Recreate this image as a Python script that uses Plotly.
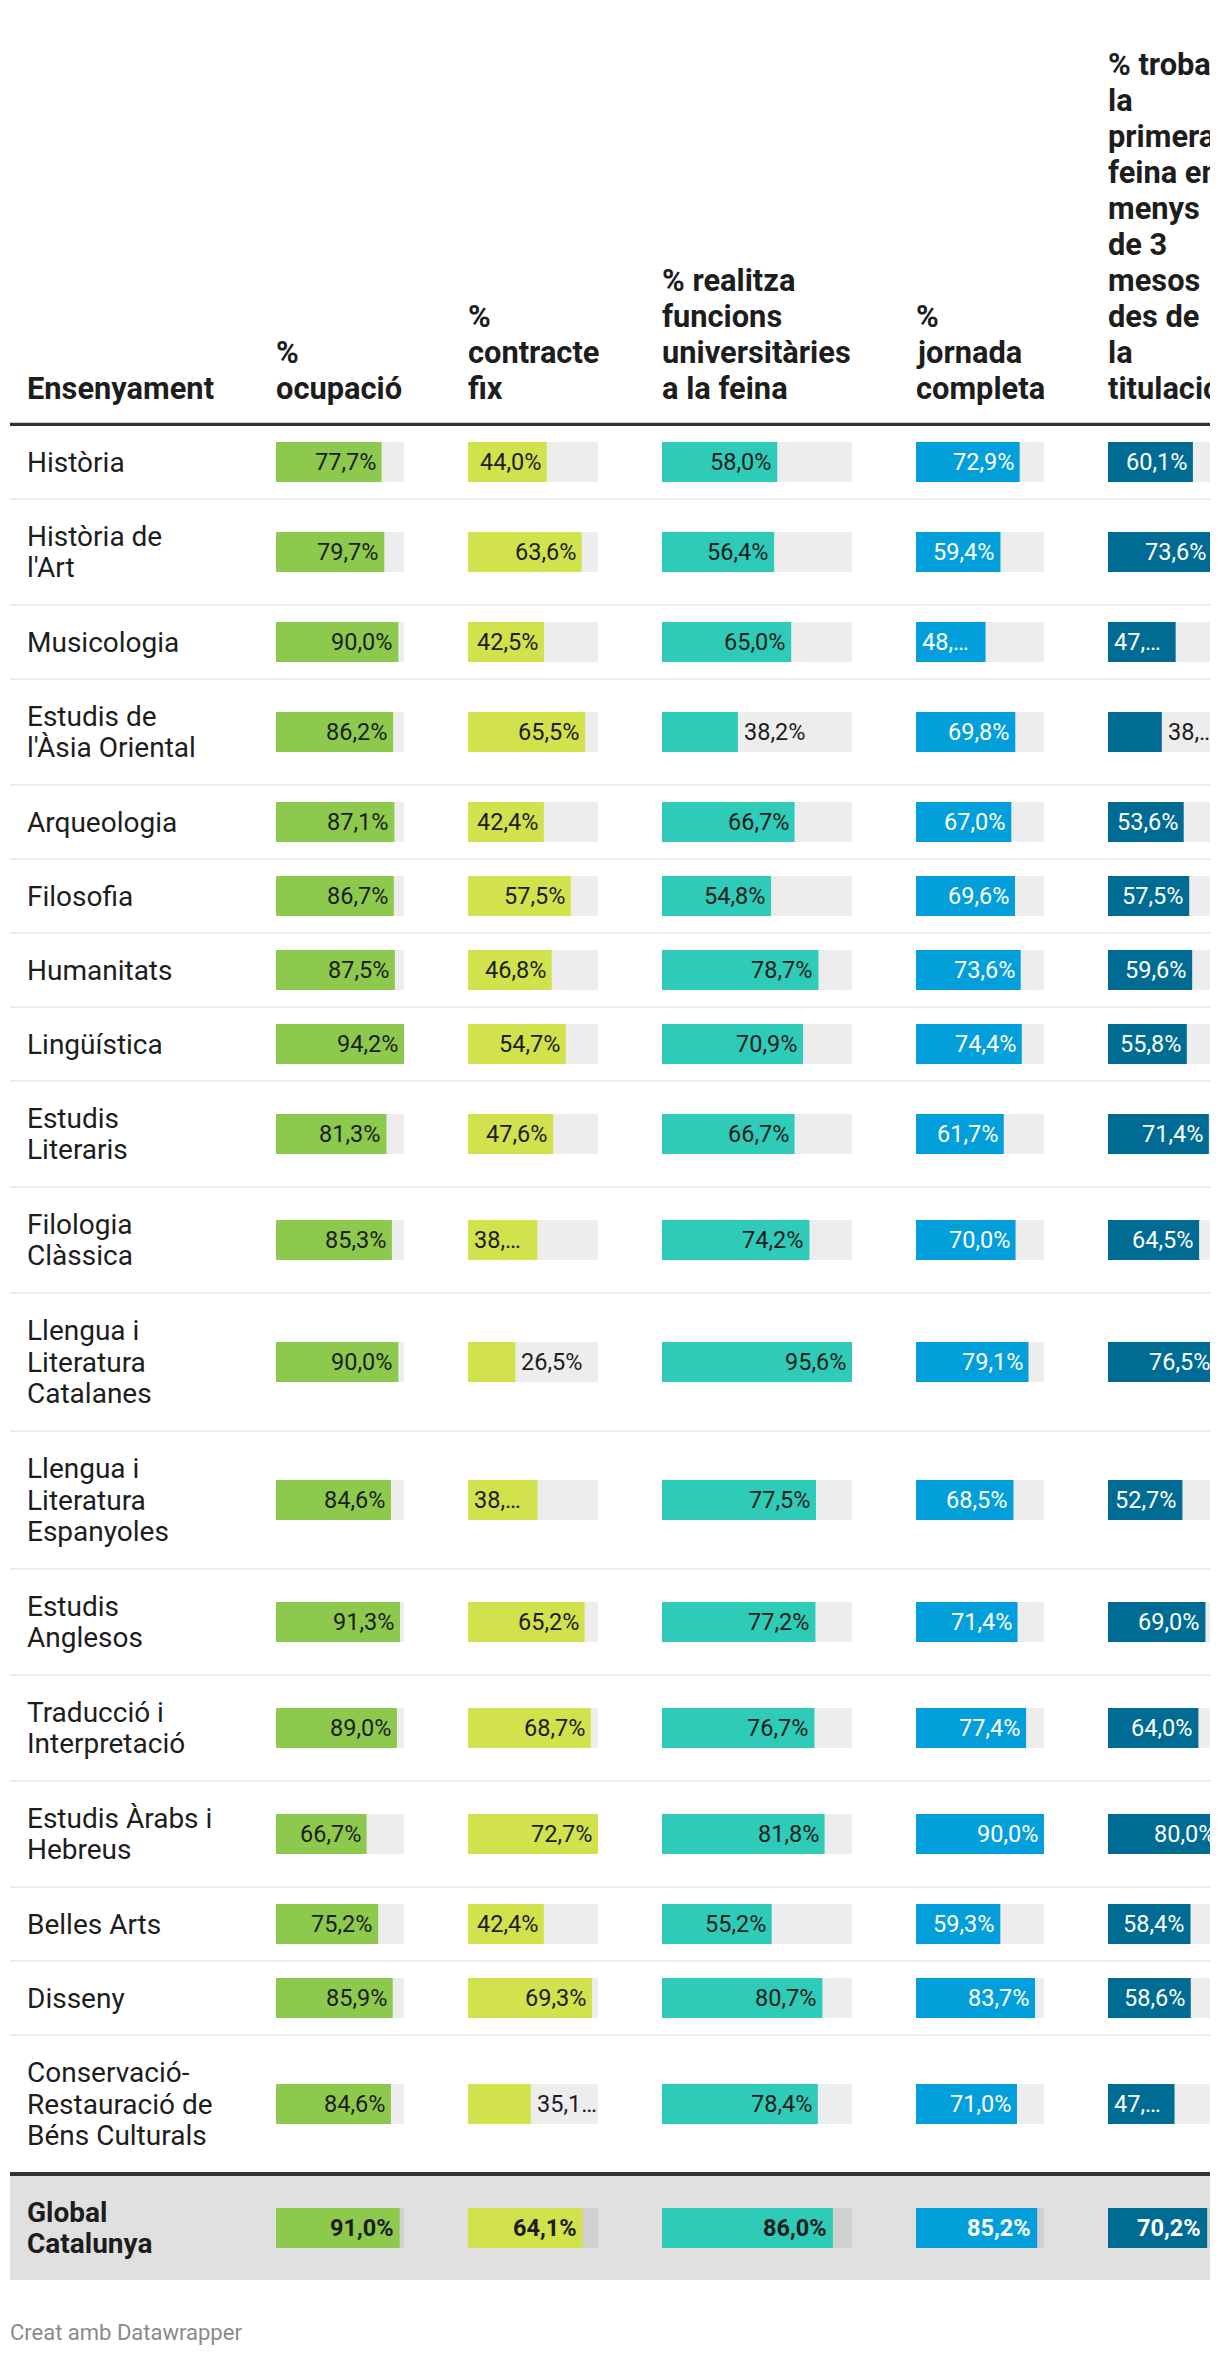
import plotly.graph_objects as go

# ---------------- data ----------------
ROW_LABELS = [
    "Història", "Història de\nl'Art", "Musicologia", "Estudis de\nl'Àsia Oriental",
    "Arqueologia", "Filosofia", "Humanitats", "Lingüística", "Estudis\nLiteraris",
    "Filologia\nClàssica", "Llengua i\nLiteratura\nCatalanes", "Llengua i\nLiteratura\nEspanyoles",
    "Estudis\nAnglesos", "Traducció i\nInterpretació", "Estudis Àrabs i\nHebreus",
    "Belles Arts", "Disseny", "Conservació-\nRestauració de\nBéns Culturals",
]
TOTAL_LABEL = "Global\nCatalunya"

OCUPACIO = [77.7, 79.7, 90.0, 86.2, 87.1, 86.7, 87.5, 94.2, 81.3, 85.3, 90.0, 84.6, 91.3, 89.0, 66.7, 75.2, 85.9, 84.6]
CONTRACTE_FIX = [44.0, 63.6, 42.5, 65.5, 42.4, 57.5, 46.8, 54.7, 47.6, 38.8, 26.5, 38.9, 65.2, 68.7, 72.7, 42.4, 69.3, 35.1]
FUNCIONS_UNIV = [58.0, 56.4, 65.0, 38.2, 66.7, 54.8, 78.7, 70.9, 66.7, 74.2, 95.6, 77.5, 77.2, 76.7, 81.8, 55.2, 80.7, 78.4]
JORNADA_COMPLETA = [72.9, 59.4, 48.9, 69.8, 67.0, 69.6, 73.6, 74.4, 61.7, 70.0, 79.1, 68.5, 71.4, 77.4, 90.0, 59.3, 83.7, 71.0]
FEINA_3_MESOS = [60.1, 73.6, 47.9, 38.1, 53.6, 57.5, 59.6, 55.8, 71.4, 64.5, 76.5, 52.7, 69.0, 64.0, 80.0, 58.4, 58.6, 47.1]
GLOBAL = [91.0, 64.1, 86.0, 85.2, 70.2]

FIRST_HEADER = "Ensenyament"
COL_HEADERS = [
    "%\nocupació",
    "%\ncontracte\nfix",
    "% realitza\nfuncions\nuniversitàries\na la feina",
    "%\njornada\ncompleta",
    "% troba\nla\nprimera\nfeina en\nmenys\nde 3\nmesos\ndes de\nla\ntitulació",
]
FOOTER = "Creat amb Datawrapper"

COLUMNS = [OCUPACIO, CONTRACTE_FIX, FUNCIONS_UNIV, JORNADA_COMPLETA, FEINA_3_MESOS]

# ---------------- style / layout ----------------
FIG_W, FIG_H = 1210, 2356
COLORS = ["#8dc94c", "#d1e24c", "#2dcbb8", "#039fda", "#006b93"]
ON_BAR_TEXT = ["#1d1d1d", "#1d1d1d", "#1d1d1d", "#ffffff", "#ffffff"]
TEXT = "#1d1d1d"
TRACK = "rgba(0,0,0,0.07)"
FONT = "Roboto"

COL_X0 = [276, 468, 662, 916, 1108]
COL_W = [128, 130, 190, 128, 113]
TABLE_X0, TABLE_X1, TEXT_X = 10, 1210, 27
HEADER_LAST_MID, HEADER_LH = 388.7, 36
HEADER_RULE_Y = 424.3
BODY_TOP = 426
ROW_PAD, ROW_LINE = 42, 32
LABEL_LH = 31.7
BAR_H = 40
BODY_FS, HEAD_FS, VAL_FS, FOOT_FS = 28, 30.8, 23.5, 22
PAD_IN, PAD_OUT, SHIFT = 12, 7, 6

# row geometry
n_lines = [s.count("\n") + 1 for s in ROW_LABELS]
centers, bottoms = [], []
top = BODY_TOP
for n in n_lines:
    pitch = ROW_PAD + ROW_LINE * n
    centers.append(top + (pitch - 2) / 2)
    bottoms.append(top + pitch)
    top += pitch
body_end = top
tot_lines = TOTAL_LABEL.count("\n") + 1
tot_top = body_end + 2
tot_pitch = ROW_PAD + ROW_LINE * tot_lines - 2
tot_center = tot_top + tot_pitch / 2
all_centers = centers + [tot_center]


def text_w(s, fs):
    em = {",": 0.192, "%": 0.732, "…": 0.62}
    return sum(0.5615 if c.isdigit() else em.get(c, 0.5) for c in s) * fs


def fit(s, avail, fs):
    if text_w(s, fs) <= avail:
        return s
    for n in range(len(s) - 1, 0, -1):
        t = s[:n] + "…"
        if text_w(t, fs) <= avail:
            return t
    return "…"


def fmt(v):
    return f"{v:.1f}".replace(".", ",") + "%"


fig = go.Figure()
annotations = []
shapes = []
layout_axes = {}

for k, vals in enumerate(COLUMNS):
    values = vals + [GLOBAL[k]]
    vmax = max(vals)
    ppu = COL_W[k] / vmax
    vis_w = min(COL_W[k], TABLE_X1 - COL_X0[k])
    rng = vis_w / ppu
    ax = f"x{k + 2}"
    layout_axes[f"xaxis{k + 2}"] = dict(
        domain=[COL_X0[k] / FIG_W, min(1.0, (COL_X0[k] + vis_w) / FIG_W)],
        range=[0, rng], visible=False, fixedrange=True, anchor="y",
    )
    fig.add_trace(go.Bar(
        x=[vmax] * len(values), y=all_centers, orientation="h", width=BAR_H, base=0,
        marker=dict(color=TRACK, line=dict(width=0)), xaxis=ax, yaxis="y",
        hoverinfo="skip", showlegend=False,
    ))
    fig.add_trace(go.Bar(
        x=values, y=all_centers, orientation="h", width=BAR_H, base=0,
        marker=dict(color=COLORS[k], line=dict(width=0)), xaxis=ax, yaxis="y",
        hoverinfo="skip", showlegend=False,
    ))
    # value labels
    for i, v in enumerate(values):
        is_total = i == len(values) - 1
        full = fmt(v)
        bar = v * ppu
        fs = VAL_FS
        if v / vmax < 0.5:
            txt = fit(full, COL_W[k] - bar - PAD_OUT, fs)
            xpos, anchor, shift, col = v, "left", SHIFT, TEXT
        elif text_w(full, fs) + PAD_IN <= bar:
            txt, xpos, anchor, shift, col = full, v, "right", -SHIFT, ON_BAR_TEXT[k]
        else:
            txt = fit(full, bar - PAD_IN, fs)
            xpos, anchor, shift, col = 0, "left", SHIFT, ON_BAR_TEXT[k]
        if xpos > rng:
            shift += (xpos - rng) * ppu
            xpos = rng
        if is_total:
            txt = f"<b>{txt}</b>"
        annotations.append(dict(
            x=xpos, y=all_centers[i], xref=ax, yref="y", text=txt, showarrow=False,
            xanchor=anchor, yanchor="middle", xshift=shift, borderpad=0, borderwidth=0,
            font=dict(family=FONT, size=fs, color=col),
        ))


def add_lines(lines, x_px, mid, lh, size, bold=False, color=TEXT):
    nl = len(lines)
    for j, line in enumerate(lines):
        y = mid + (j - (nl - 1) / 2) * lh
        annotations.append(dict(
            x=x_px / FIG_W, y=y, xref="paper", yref="y",
            text=f"<b>{line}</b>" if bold else line, showarrow=False,
            xanchor="left", yanchor="middle", borderpad=0, borderwidth=0,
            font=dict(family=FONT, size=size, color=color),
        ))


# headers (bottom aligned)
def add_header(text, x_px):
    lines = text.split("\n")
    nl = len(lines)
    for j, line in enumerate(lines):
        y = HEADER_LAST_MID - (nl - 1 - j) * HEADER_LH
        annotations.append(dict(
            x=x_px / FIG_W, y=y, xref="paper", yref="y", text=f"<b>{line}</b>",
            showarrow=False, xanchor="left", yanchor="middle", borderpad=0, borderwidth=0,
            font=dict(family=FONT, size=HEAD_FS, color=TEXT),
        ))


add_header(FIRST_HEADER, TEXT_X)
for k, h in enumerate(COL_HEADERS):
    add_header(h, COL_X0[k])

# row labels
for i, lab in enumerate(ROW_LABELS):
    add_lines(lab.split("\n"), TEXT_X, centers[i], LABEL_LH, BODY_FS)
add_lines(TOTAL_LABEL.split("\n"), TEXT_X, tot_center, LABEL_LH, BODY_FS, bold=True)

# footer
annotations.append(dict(
    x=TABLE_X0 / FIG_W, y=2332.5, xref="paper", yref="y", text=FOOTER, showarrow=False,
    xanchor="left", yanchor="middle", borderpad=0, borderwidth=0,
    font=dict(family=FONT, size=FOOT_FS, color="#8a8a8a"),
))

# rules
x0p = TABLE_X0 / FIG_W
shapes.append(dict(type="rect", xref="paper", yref="y", x0=x0p, x1=1, y0=tot_top,
                   y1=tot_top + tot_pitch, fillcolor="#e0e0e0", line=dict(width=0), layer="below"))
for b in bottoms[:-1]:
    shapes.append(dict(type="line", xref="paper", yref="y", x0=x0p, x1=1, y0=b - 1, y1=b - 1,
                       line=dict(color="#ececec", width=2), layer="below"))
shapes.append(dict(type="line", xref="paper", yref="y", x0=x0p, x1=1, y0=HEADER_RULE_Y,
                   y1=HEADER_RULE_Y, line=dict(color="#333333", width=3.3), layer="above"))
shapes.append(dict(type="line", xref="paper", yref="y", x0=x0p, x1=1, y0=body_end, y1=body_end,
                   line=dict(color="#333333", width=4), layer="above"))

fig.update_layout(
    width=FIG_W, height=FIG_H, margin=dict(l=0, r=0, t=0, b=0, pad=0),
    paper_bgcolor="#ffffff", plot_bgcolor="rgba(0,0,0,0)",
    barmode="overlay", showlegend=False,
    xaxis=dict(visible=False, fixedrange=True, domain=[0, 1]),
    yaxis=dict(range=[FIG_H, 0], domain=[0, 1], visible=False, fixedrange=True),
    annotations=annotations, shapes=shapes,
    **layout_axes,
)

fig.write_html(
    "out.html",
    config={"displayModeBar": False},
    post_script="document.body.style.margin='0';document.body.style.overflow='hidden';",
)
